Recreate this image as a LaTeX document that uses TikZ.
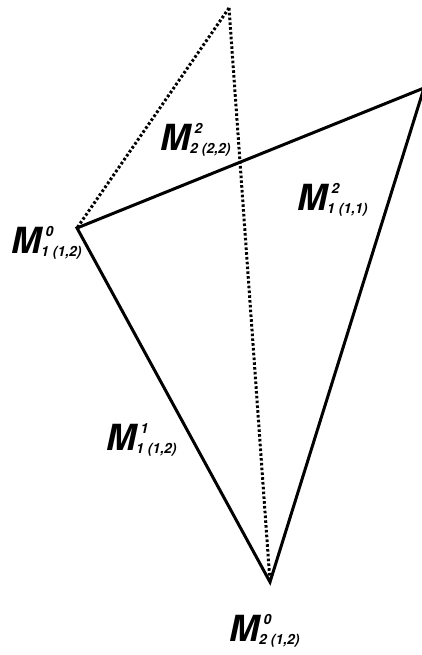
\documentclass[tikz,border=0pt]{standalone}
\usepackage{fontspec}
\setmainfont{TeX Gyre Heros}
\newcommand{\Mlab}[2]{\bfseries\itshape\fontsize{36}{36}\selectfont M\rlap{\kern4.5pt\raisebox{17pt}{\fontsize{14}{14}\selectfont #1}}\raisebox{-3.5pt}{\fontsize{14}{14}\selectfont #2}}
\begin{document}
\begin{tikzpicture}[x=1pt,y=-1pt,
  solidedge/.style={line width=3pt,line join=miter},
  dotedge/.style={line width=3pt,dash pattern=on 2.6pt off 2.2pt},
  lab/.style={inner sep=0pt,anchor=base west}]
\useasboundingbox (0,0) rectangle (422,655);
\coordinate (A) at (229,8);
\coordinate (L) at (77,228);
\coordinate (R) at (424,88);
\coordinate (B) at (270,582);
\draw[dotedge] (A) -- (L);
\draw[dotedge] (A) -- (B);
\draw[solidedge] (R) -- (L) -- (B) -- (R);
\node[lab] (m22) at (160,150) {\Mlab{2}{2 (2,2)}};
\node[lab] (m11) at (297,210) {\Mlab{2}{1 (1,1)}};
\node[lab] (m10) at (11,253) {\Mlab{0}{1 (1,2)}};
\node[lab] (m1a) at (106,450) {\Mlab{1}{1 (1,2)}};
\node[lab] (m20) at (229,641) {\Mlab{0}{2 (1,2)}};
\end{tikzpicture}
\end{document}
